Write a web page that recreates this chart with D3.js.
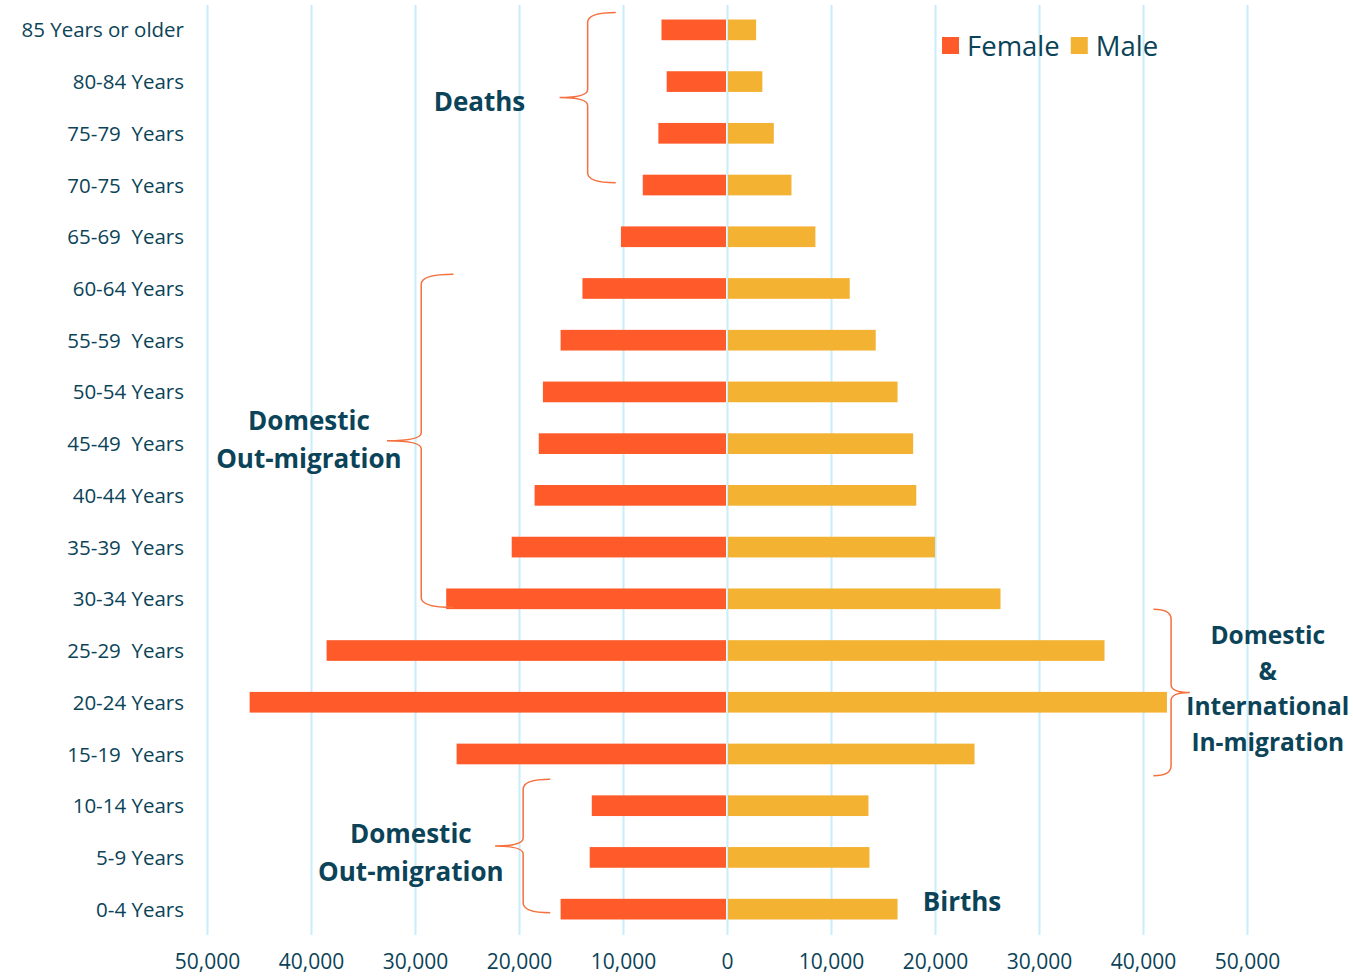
<!DOCTYPE html>
<html>
<head>
<meta charset="utf-8">
<script src="https://cdn.jsdelivr.net/npm/d3@7"></script>
<style>
  body { margin: 0; background: #fff; }
  text { font-family: "Open Sans", Lato, sans-serif; fill: #0b4358; white-space: pre; }
</style>
</head>
<body>
<div id="chart-area"></div>
<script>
// age groups, top to bottom
var ageGroups = ["85 Years or older", "80-84 Years", "75-79  Years", "70-75  Years", "65-69  Years",
  "60-64 Years", "55-59  Years", "50-54 Years", "45-49  Years", "40-44 Years", "35-39  Years",
  "30-34 Years", "25-29  Years", "20-24 Years", "15-19  Years", "10-14 Years", "5-9 Years", "0-4 Years"];

var female = [6300, 5800, 6600, 8100, 10200, 13900, 16000, 17700, 18100, 18500, 20700, 27000,
  38500, 45900, 26000, 13000, 13200, 16000];
var male = [2800, 3400, 4500, 6200, 8500, 11800, 14300, 16400, 17900, 18200, 20000, 26300,
  36300, 42300, 23800, 13600, 13700, 16400];

var xTicks = [-50000, -40000, -30000, -20000, -10000, 0, 10000, 20000, 30000, 40000, 50000];

var seriesNames = ["Female", "Male"];
var colors = { Female: "#ff5b2a", Male: "#f3b232" };

var width = 1353, height = 976;

var svg = d3.select("#chart-area").append("svg")
  .attr("width", width)
  .attr("height", height);

var x = d3.scaleLinear().domain([-50000, 50000]).range([207, 1247]);
var y = d3.scaleBand().domain(ageGroups).range([4, 935]).paddingInner(0.6).paddingOuter(0.3);

// grid + x axis
var xAxis = d3.axisBottom(x)
  .tickValues(xTicks)
  .tickSize(-930)
  .tickPadding(19)
  .tickFormat(function(d) { return d3.format(",")(Math.abs(d)); });

var gx = svg.append("g")
  .attr("class", "axis x-axis")
  .attr("transform", "translate(0,935)")
  .call(xAxis);
gx.select(".domain").remove();
gx.selectAll("line").attr("stroke", "#c9eefb").attr("stroke-width", 2);
gx.selectAll("text").style("font-size", "21px").attr("fill", "#0b4358");

// category labels
var gy = svg.append("g")
  .attr("class", "axis y-axis")
  .attr("transform", "translate(184,1)")
  .call(d3.axisLeft(y).tickSize(0).tickPadding(0));
gy.select(".domain").remove();
gy.selectAll("text").style("font-size", "20.5px").attr("fill", "#0b4358");

// bars
var rows = ageGroups.map(function(g, i) { return { group: g, Female: female[i], Male: male[i] }; });

svg.append("g").selectAll("rect.f")
  .data(rows)
  .enter().append("rect")
  .attr("x", function(d) { return x(-d.Female); })
  .attr("y", function(d) { return y(d.group); })
  .attr("width", function(d) { return x(0) - x(-d.Female) - 1; })
  .attr("height", y.bandwidth())
  .attr("fill", colors.Female);

svg.append("g").selectAll("rect.m")
  .data(rows)
  .enter().append("rect")
  .attr("x", x(0) + 1)
  .attr("y", function(d) { return y(d.group); })
  .attr("width", function(d) { return x(d.Male) - x(0) - 1; })
  .attr("height", y.bandwidth())
  .attr("fill", colors.Male);

// legend
var legend = svg.append("g").attr("transform", "translate(942,37)");
var lx = 0;
seriesNames.forEach(function(name) {
  legend.append("rect").attr("x", lx).attr("y", 0).attr("width", 17).attr("height", 17).attr("fill", colors[name]);
  var t = legend.append("text").attr("x", lx + 25).attr("y", 19).style("font-size", "27.5px").text(name);
  lx += 25 + t.node().getComputedTextLength() + 11;
});

// braces
function brace(x1, x2, x3, y1, y2) {
  // x1 arms, x2 spine, x3 tip
  var ym = (y1 + y2) / 2;
  return "M" + x1 + "," + y1 +
    " Q" + x2 + "," + y1 + " " + x2 + "," + (y1 + 10) +
    " L" + x2 + "," + (ym - 8) +
    " Q" + x2 + "," + ym + " " + x3 + "," + ym +
    " Q" + x2 + "," + ym + " " + x2 + "," + (ym + 8) +
    " L" + x2 + "," + (y2 - 10) +
    " Q" + x2 + "," + y2 + " " + x1 + "," + y2;
}

// offsets are measured from the band top of the first / last row
var braces = [
  { xs: [-10700, -13400, -16100], from: "85 Years or older", fromOff: -7, to: "70-75  Years", toOff: 8 },
  { xs: [-26300, -29400, -32700], from: "60-64 Years", fromOff: -4, to: "30-34 Years", toOff: 19 },
  { xs: [-17000, -19600, -22300], from: "10-14 Years", fromOff: -16, to: "0-4 Years", toOff: 14 },
  { xs: [41000, 42700, 44500], from: "25-29  Years", fromOff: -31, to: "15-19  Years", toOff: 32 }
];

braces.forEach(function(b) {
  svg.append("path")
    .attr("d", brace(x(b.xs[0]), x(b.xs[1]), x(b.xs[2]), y(b.from) + b.fromOff, y(b.to) + b.toOff))
    .attr("fill", "none")
    .attr("stroke", "#f4703e")
    .attr("stroke-width", 1.5);
});

// annotation labels
var notes = [
  { lines: ["Deaths"], cx: -23800, cy: 102 },
  { lines: ["Domestic", "Out-migration"], cx: -40200, cy: 440 },
  { lines: ["Domestic", "Out-migration"], cx: -30400, cy: 853 },
  { lines: ["Domestic", "&", "International", "In-migration"], cx: 52000, cy: 689 },
  { lines: ["Births"], cx: 22600, cy: 902 }
];

notes.forEach(function(n) {
  var lh = n.lines.length > 2 ? 35.5 : 38.5;
  var t = svg.append("text")
    .attr("text-anchor", "middle")
    .style("font-size", n.lines.length > 2 ? "24.5px" : "26px")
    .style("font-weight", "bold");
  n.lines.forEach(function(l, i) {
    t.append("tspan")
      .attr("x", x(n.cx))
      .attr("y", n.cy + (i - (n.lines.length - 1) / 2) * lh)
      .attr("dy", "0.35em")
      .text(l);
  });
});
</script>
</body>
</html>
